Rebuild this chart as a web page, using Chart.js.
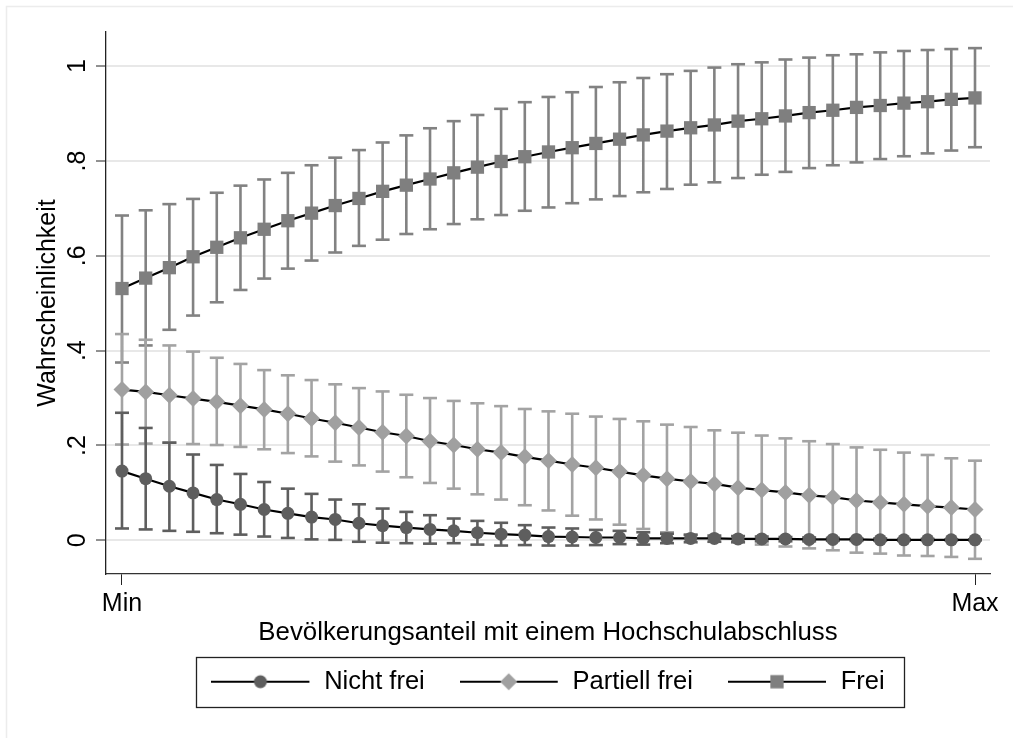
<!DOCTYPE html>
<html>
<head>
<meta charset="utf-8">
<script src="https://cdn.jsdelivr.net/npm/chart.js@4.4.1/dist/chart.umd.min.js"></script>
<style>
  html, body { margin: 0; padding: 0; background: #fff; }
  #wrap { width: 1013px; height: 738px; position: relative; }
</style>
</head>
<body>
<div id="wrap"><canvas id="chart"></canvas></div>
<script>
// x positions of the margins, Min ... Max
const xSteps = [0, 1, 2, 3, 4, 5, 6, 7, 8, 9, 10, 11, 12, 13, 14, 15, 16, 17, 18,
                19, 20, 21, 22, 23, 24, 25, 26, 27, 28, 29, 30, 31, 32, 33, 34, 35, 36];
const xTickValues = [0, 36];
const xTickLabels = ['Min', 'Max'];
const yTickValues = [0, 0.2, 0.4, 0.6, 0.8, 1];
const yTickLabels = ['0', '.2', '.4', '.6', '.8', '1'];

const seriesNames = ['Nicht frei', 'Partiell frei', 'Frei'];

// Predicted probabilities with confidence limits
const nichtFrei = [0.146, 0.130, 0.114, 0.100, 0.086, 0.076, 0.065, 0.057, 0.049, 0.044, 0.036, 0.031,
                   0.027, 0.023, 0.020, 0.016, 0.013, 0.011, 0.008, 0.007, 0.006, 0.006, 0.004, 0.004,
                   0.004, 0.004, 0.003, 0.003, 0.003, 0.002, 0.002, 0.002, 0.001, 0.001, 0.001, 0.001, 0.001];
const nichtFreiHi = [0.269, 0.237, 0.206, 0.181, 0.159, 0.140, 0.123, 0.109, 0.098, 0.086, 0.076, 0.067,
                     0.060, 0.053, 0.046, 0.041, 0.037, 0.032, 0.027, 0.025, 0.022, 0.020, 0.017, 0.014,
                     0.012, 0.010, 0.009, 0.008, 0.007, 0.006, 0.005, 0.004, 0.004, 0.003, 0.003, 0.002, 0.002];
const nichtFreiLo = [0.025, 0.023, 0.020, 0.018, 0.015, 0.012, 0.008, 0.005, 0.002, 0.001, -0.003, -0.005,
                     -0.006, -0.007, -0.006, -0.009, -0.011, -0.010, -0.011, -0.011, -0.010, -0.008, -0.009, -0.006,
                     -0.004, -0.003, -0.003, -0.002, -0.002, -0.002, -0.001, -0.001, -0.001, -0.001, 0.000, 0.000, 0.000];

const partiell = [0.318, 0.313, 0.306, 0.299, 0.292, 0.284, 0.276, 0.267, 0.257, 0.248, 0.238, 0.228,
                  0.220, 0.209, 0.201, 0.192, 0.185, 0.176, 0.168, 0.160, 0.153, 0.145, 0.137, 0.130,
                  0.124, 0.119, 0.111, 0.106, 0.101, 0.095, 0.091, 0.084, 0.080, 0.076, 0.072, 0.069, 0.065];
const partiellHi = [0.435, 0.423, 0.411, 0.398, 0.385, 0.372, 0.359, 0.348, 0.338, 0.329, 0.321, 0.314,
                    0.307, 0.300, 0.294, 0.289, 0.283, 0.277, 0.272, 0.267, 0.261, 0.256, 0.251, 0.244,
                    0.239, 0.232, 0.227, 0.221, 0.215, 0.209, 0.203, 0.196, 0.191, 0.185, 0.180, 0.173, 0.168];
const partiellLo = [0.202, 0.204, 0.206, 0.203, 0.201, 0.197, 0.192, 0.184, 0.177, 0.166, 0.158, 0.145,
                    0.133, 0.121, 0.109, 0.097, 0.086, 0.074, 0.063, 0.052, 0.044, 0.033, 0.024, 0.017,
                    0.011, 0.006, -0.005, -0.009, -0.013, -0.017, -0.021, -0.026, -0.028, -0.032, -0.033, -0.035, -0.039];

const frei = [0.531, 0.553, 0.575, 0.598, 0.618, 0.638, 0.656, 0.674, 0.690, 0.706, 0.721, 0.736,
              0.749, 0.762, 0.775, 0.787, 0.799, 0.809, 0.819, 0.828, 0.837, 0.846, 0.855, 0.863,
              0.870, 0.876, 0.884, 0.889, 0.895, 0.902, 0.907, 0.913, 0.917, 0.922, 0.925, 0.930, 0.933];
const freiHi = [0.685, 0.696, 0.709, 0.720, 0.733, 0.748, 0.761, 0.775, 0.791, 0.807, 0.823, 0.839,
                0.854, 0.869, 0.884, 0.897, 0.910, 0.924, 0.935, 0.945, 0.956, 0.966, 0.975, 0.983,
                0.990, 0.997, 1.004, 1.008, 1.014, 1.018, 1.023, 1.025, 1.029, 1.032, 1.034, 1.036, 1.038];
const freiLo = [0.375, 0.411, 0.444, 0.474, 0.502, 0.528, 0.552, 0.573, 0.590, 0.607, 0.621, 0.634,
                0.646, 0.656, 0.667, 0.677, 0.686, 0.695, 0.702, 0.711, 0.719, 0.726, 0.734, 0.741,
                0.750, 0.755, 0.764, 0.771, 0.777, 0.785, 0.791, 0.797, 0.804, 0.810, 0.816, 0.822, 0.829];

const FONT = '"Liberation Sans", Arial, Helvetica, sans-serif';
Chart.defaults.font.family = FONT;
Chart.defaults.color = '#000';

// marker look per series
const markers = [
    { style: 'circle', radius: 6.5, color: '#5e5e5e', ci: '#5e5e5e' },
    { style: 'rectRot', radius: 8.5, color: '#a0a0a0', ci: '#a3a3a3' },
    { style: 'rect', radius: 9.4, color: '#7f7f7f', ci: '#828282' }
];

function points(values) {
    return xSteps.map((x, i) => ({ x: x, y: values[i] }));
}

// one little segment per x, broken by a null point
function ciPoints(lo, hi) {
    const pts = [];
    xSteps.forEach((x, i) => {
        pts.push({ x: x, y: lo[i] });
        pts.push({ x: x, y: hi[i] });
        pts.push({ x: x, y: null });
    });
    return pts;
}

function lineSet(label, values, m) {
    return {
        label: label,
        data: points(values),
        showLine: true,
        borderColor: '#000',
        borderWidth: 2.2,
        tension: 0,
        pointStyle: m.style,
        pointRadius: m.radius,
        pointBackgroundColor: m.color,
        pointBorderWidth: 0
    };
}

function ciSet(label, lo, hi, m) {
    return {
        label: label,
        data: ciPoints(lo, hi),
        showLine: true,
        spanGaps: false,
        borderColor: m.ci,
        borderWidth: 2.6,
        pointStyle: 'line',
        pointRadius: 7,
        pointBorderColor: m.ci,
        pointBorderWidth: 2.6
    };
}

// legend symbol: line with the marker in the middle
function legendSymbol(m) {
    const c = document.createElement('canvas');
    c.width = 100;
    c.height = 22;
    const g = c.getContext('2d');
    g.strokeStyle = '#000';
    g.lineWidth = 2.2;
    g.beginPath();
    g.moveTo(0, 11);
    g.lineTo(98, 11);
    g.stroke();
    g.fillStyle = m.color;
    g.beginPath();
    if (m.style === 'circle') {
        g.arc(49, 11, m.radius, 0, Math.PI * 2);
    } else if (m.style === 'rectRot') {
        g.moveTo(49 - m.radius, 11); g.lineTo(49, 11 - m.radius);
        g.lineTo(49 + m.radius, 11); g.lineTo(49, 11 + m.radius);
    } else {
        const s = m.radius * Math.SQRT1_2;
        g.rect(49 - s, 11 - s, 2 * s, 2 * s);
    }
    g.closePath();
    g.fill();
    return c;
}

const symbols = markers.map(legendSymbol);

// light outer frame and the box round the legend
const stataFrame = {
    id: 'stataFrame',
    beforeDraw(chart) {
        const ctx = chart.ctx;
        ctx.save();
        ctx.strokeStyle = '#ececec';
        ctx.lineWidth = 1.5;
        ctx.beginPath();
        ctx.moveTo(6.5, chart.height);
        ctx.lineTo(6.5, 6.5);
        ctx.lineTo(chart.width, 6.5);
        ctx.stroke();
        ctx.restore();
    },
    afterDraw(chart) {
        const lg = chart.legend;
        const pad = lg.options.labels.padding;
        const start = (lg.left + pad + lg.right - lg.lineWidths[0]) / 2;
        const end = start + lg.lineWidths[0] - pad;
        const midY = lg.top + pad + 12.5;
        const ctx = chart.ctx;
        ctx.save();
        ctx.strokeStyle = '#222';
        ctx.lineWidth = 1.3;
        ctx.strokeRect(Math.round(start - 15) + 0.5, Math.round(midY - 25) + 0.5,
                       Math.round(end - start + 35), 50);
        ctx.restore();
    }
};

const ctx = document.getElementById('chart').getContext('2d');
new Chart(ctx, {
    type: 'scatter',
    data: {
        datasets: [
            lineSet(seriesNames[0], nichtFrei, markers[0]),
            lineSet(seriesNames[1], partiell, markers[1]),
            lineSet(seriesNames[2], frei, markers[2]),
            ciSet('ci0', nichtFreiLo, nichtFreiHi, markers[0]),
            ciSet('ci1', partiellLo, partiellHi, markers[1]),
            ciSet('ci2', freiLo, freiHi, markers[2])
        ]
    },
    options: {
        responsive: true,
        maintainAspectRatio: false,
        animation: false,
        events: [],
        layout: {
            padding: { left: 0, right: 23, top: 32, bottom: 33.5 }
        },
        plugins: {
            tooltip: { enabled: false },
            legend: {
                position: 'bottom',
                fullSize: false,
                labels: {
                    usePointStyle: true,
                    pointStyleWidth: 100,
                    padding: 35,
                    font: { size: 25.5 },
                    color: '#000',
                    generateLabels: function(chart) {
                        return seriesNames.map((name, i) => ({
                            text: name,
                            pointStyle: symbols[i],
                            fillStyle: markers[i].color,
                            strokeStyle: '#000',
                            lineWidth: 0,
                            hidden: false,
                            datasetIndex: i
                        }));
                    }
                }
            }
        },
        scales: {
            x: {
                type: 'linear',
                min: -0.675,
                max: 36.633,
                afterBuildTicks: function(scale) {
                    scale.ticks = xTickValues.map(v => ({ value: v }));
                },
                afterFit: function(scale) {
                    scale.height = 60;
                },
                ticks: {
                    autoSkip: false,
                    maxRotation: 0,
                    padding: 4,
                    font: { size: 25 },
                    callback: function(value, index) {
                        return xTickLabels[index];
                    }
                },
                grid: {
                    drawOnChartArea: false,
                    tickLength: 11,
                    tickColor: '#222',
                    tickWidth: 1
                },
                border: { color: '#333', width: 1.3 },
                title: {
                    display: true,
                    text: 'Bevölkerungsanteil mit einem Hochschulabschluss',
                    font: { size: 25.8 },
                    padding: { top: 0, bottom: -14 }
                }
            },
            y: {
                type: 'linear',
                min: -0.071,
                max: 1.072,
                afterBuildTicks: function(scale) {
                    scale.ticks = yTickValues.map(v => ({ value: v }));
                },
                afterFit: function(scale) {
                    scale.width = 106;
                },
                ticks: {
                    autoSkip: false,
                    minRotation: 90,
                    maxRotation: 90,
                    crossAlign: 'center',
                    padding: 7,
                    font: { size: 25 },
                    callback: function(value, index) {
                        return yTickLabels[index];
                    }
                },
                grid: {
                    color: '#e8e8e8',
                    lineWidth: 2,
                    tickLength: 10,
                    tickColor: '#222',
                    tickWidth: 1
                },
                border: { color: '#222', width: 1.3 },
                title: {
                    display: true,
                    text: 'Wahrscheinlichkeit',
                    font: { size: 25 },
                    padding: { top: 33, bottom: 0 }
                }
            }
        }
    },
    plugins: [stataFrame]
});
</script>
</body>
</html>
